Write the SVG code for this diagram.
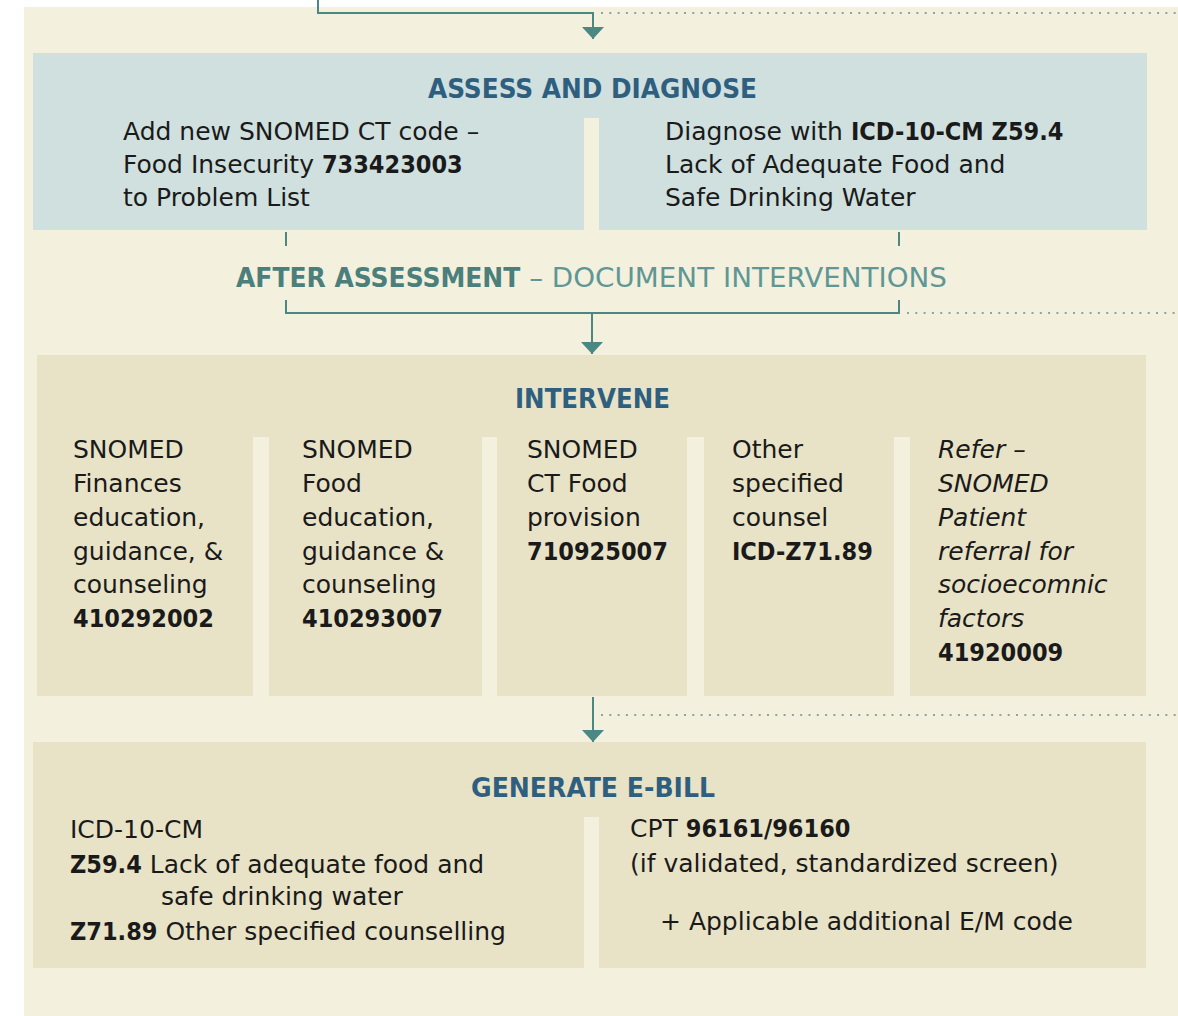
<svg xmlns="http://www.w3.org/2000/svg" width="1178" height="1016" viewBox="0 0 1178 1016">
  <style>
    .page { fill: #f3f0de; }
    .blue { fill: #cfe0df; }
    .tan { fill: #e8e3c7; }
    .head { font-family: "DejaVu Sans", "Liberation Sans", sans-serif; font-weight: bold; font-stretch: condensed; font-size: 26px; fill: #2f5f7f; }
    .body { font-family: "DejaVu Sans", "Liberation Sans", sans-serif; font-size: 25px; fill: #1a1a1a; }
    .b { font-weight: bold; font-stretch: condensed; }
    .it { font-style: italic; }
    .step { font-family: "DejaVu Sans", "Liberation Sans", sans-serif; font-size: 26px; fill: #5f9794; }
    .step-b { font-weight: bold; font-stretch: condensed; fill: #4b7f7b; }
    .flow { fill: none; stroke: #4b8783; stroke-width: 2; }
    .dots { fill: none; stroke: #8aa6a0; stroke-width: 2.2; stroke-dasharray: 2 6.3; }
  </style>
  <defs>
    <marker id="arrow" viewBox="0 0 12 22" refX="12" refY="11" markerWidth="12" markerHeight="22" markerUnits="userSpaceOnUse" orient="auto">
      <path d="M0,0 L12,11 L0,22 Z" fill="#4b8783"/>
    </marker>
  </defs>

  <!-- page -->
  <rect x="0" y="0" width="1178" height="1016" fill="#ffffff"/>
  <rect class="page" x="24" y="7" width="1154" height="1009"/>

  <!-- connectors -->
  <g id="connectors">
    <path class="flow" d="M318,0 V13 H593 V39" marker-end="url(#arrow)"/>
    <line class="dots" x1="601" y1="13" x2="1178" y2="13"/>
    <line class="flow" x1="286" y1="232" x2="286" y2="246"/>
    <line class="flow" x1="899" y1="232" x2="899" y2="246"/>
    <path class="flow" d="M286,300 V313 H899 V300"/>
    <path class="flow" d="M592,313 V354" marker-end="url(#arrow)"/>
    <line class="dots" x1="907" y1="313" x2="1178" y2="313"/>
    <path class="flow" d="M593,697 V742" marker-end="url(#arrow)"/>
    <line class="dots" x1="601" y1="715" x2="1178" y2="715"/>
  </g>

  <!-- step label between assessment and intervention -->
  <g id="after-assessment">
    <text class="step" x="236" y="287" textLength="711" lengthAdjust="spacingAndGlyphs"><tspan class="step-b">AFTER ASSESSMENT</tspan> – DOCUMENT INTERVENTIONS</text>
  </g>

  <!-- assess and diagnose -->
  <g id="assess">
    <path class="blue" d="M33,53 H1147 V230 H599 V118 H584 V230 H33 Z"/>
    <text class="head" x="428" y="98" textLength="329" lengthAdjust="spacingAndGlyphs">ASSESS AND DIAGNOSE</text>
    <text class="body">
      <tspan x="123" y="140">Add new SNOMED CT code –</tspan>
      <tspan x="123" y="173">Food Insecurity <tspan class="b">733423003</tspan></tspan>
      <tspan x="123" y="206">to Problem List</tspan>
    </text>
    <text class="body">
      <tspan x="665" y="140">Diagnose with <tspan class="b">ICD-10-CM Z59.4</tspan></tspan>
      <tspan x="665" y="173">Lack of Adequate Food and</tspan>
      <tspan x="665" y="206">Safe Drinking Water</tspan>
    </text>
  </g>

  <!-- intervene -->
  <g id="intervene">
    <path class="tan" d="M37,355 H1146 V696 H910 V437 H894 V696 H704 V437 H687 V696 H497 V437 H482 V696 H269 V437 H253 V696 H37 Z"/>
    <text class="head" x="515" y="408" textLength="155" lengthAdjust="spacingAndGlyphs">INTERVENE</text>
    <g id="finances-counseling">
      <text class="body">
        <tspan x="73" y="458">SNOMED</tspan>
        <tspan x="73" y="492">Finances</tspan>
        <tspan x="73" y="526">education,</tspan>
        <tspan x="73" y="560">guidance, &amp;</tspan>
        <tspan x="73" y="593">counseling</tspan>
        <tspan class="b" x="73" y="627">410292002</tspan>
      </text>
    </g>
    <g id="food-counseling">
      <text class="body">
        <tspan x="302" y="458">SNOMED</tspan>
        <tspan x="302" y="492">Food</tspan>
        <tspan x="302" y="526">education,</tspan>
        <tspan x="302" y="560">guidance &amp;</tspan>
        <tspan x="302" y="593">counseling</tspan>
        <tspan class="b" x="302" y="627">410293007</tspan>
      </text>
    </g>
    <g id="food-provision">
      <text class="body">
        <tspan x="527" y="458">SNOMED</tspan>
        <tspan x="527" y="492">CT Food</tspan>
        <tspan x="527" y="526">provision</tspan>
        <tspan class="b" x="527" y="560">710925007</tspan>
      </text>
    </g>
    <g id="other-counsel">
      <text class="body">
        <tspan x="732" y="458">Other</tspan>
        <tspan x="732" y="492">specified</tspan>
        <tspan x="732" y="526">counsel</tspan>
        <tspan class="b" x="732" y="560">ICD-Z71.89</tspan>
      </text>
    </g>
    <g id="refer">
      <text class="body">
        <tspan class="it" x="938" y="458">Refer –</tspan>
        <tspan class="it" x="938" y="492">SNOMED</tspan>
        <tspan class="it" x="938" y="526">Patient</tspan>
        <tspan class="it" x="938" y="560">referral for</tspan>
        <tspan class="it" x="938" y="593">socioecomnic</tspan>
        <tspan class="it" x="938" y="627">factors</tspan>
        <tspan class="b" x="938" y="661">41920009</tspan>
      </text>
    </g>
  </g>

  <!-- generate e-bill -->
  <g id="ebill">
    <path class="tan" d="M33,742 H1146 V968 H599 V817 H584 V968 H33 Z"/>
    <text class="head" x="471" y="797" textLength="244" lengthAdjust="spacingAndGlyphs">GENERATE E-BILL</text>
    <text class="body">
      <tspan x="70" y="838">ICD-10-CM</tspan>
      <tspan x="70" y="873"><tspan class="b">Z59.4</tspan> Lack of adequate food and</tspan>
      <tspan x="161" y="905">safe drinking water</tspan>
      <tspan x="70" y="940"><tspan class="b">Z71.89</tspan> Other specified counselling</tspan>
    </text>
    <text class="body">
      <tspan x="630" y="837">CPT <tspan class="b">96161/96160</tspan></tspan>
      <tspan x="630" y="872">(if validated, standardized screen)</tspan>
      <tspan x="660" y="930">+ Applicable additional E/M code</tspan>
    </text>
  </g>
</svg>
